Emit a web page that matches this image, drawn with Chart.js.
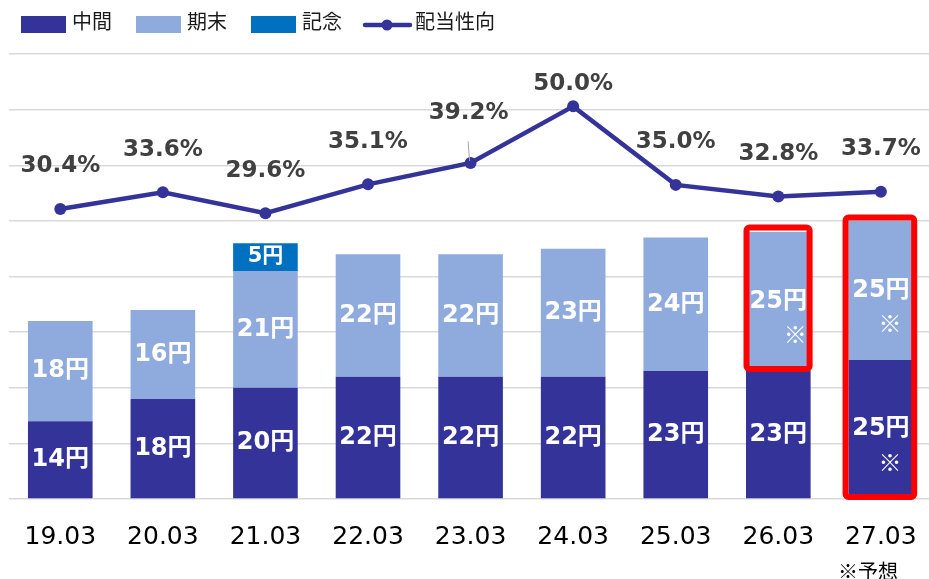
<!DOCTYPE html>
<html><head><meta charset="utf-8">
<script src="https://cdn.jsdelivr.net/npm/chart.js@4"></script>
<style>
html,body{margin:0;padding:0;overflow:hidden;background:#fff;width:929px;height:579px}
#wrap{position:absolute;left:0;top:0;width:940px;height:579px}
</style>
</head><body><div id="wrap"><canvas id="c" width="940" height="579"></canvas></div>
<script>
// ---- data ----
const categories = ['19.03','20.03','21.03','22.03','23.03','24.03','25.03','26.03','27.03'];
const interim = [14, 18, 20, 22, 22, 22, 23, 23, 25];
const yearEnd = [18, 16, 21, 22, 22, 23, 24, 25, 25];
const commemorative = [null, null, 5, null, null, null, null, null, null];
const payoutRatio = [30.4, 33.6, 29.6, 35.1, 39.2, 50.0, 35.0, 32.8, 33.7];
const interimForecast = [false, false, false, false, false, false, false, false, true];
const yearEndForecast = [false, false, false, false, false, false, false, true, true];
const seriesNames = ['中間', '期末', '記念', '配当性向'];
const footnote = '※予想';

// ---- styles ----
const C_DARK = '#333399', C_LIGHT = '#8FAADC', C_MEMO = '#0070C0', C_RED = '#FF0000';
const NUM_FONT = '"DejaVu Sans", "Noto Sans CJK JP", sans-serif';
const JP_FONT = '"Noto Sans CJK JP", "DejaVu Sans", sans-serif';

const labelPlugin = {
  id: 'labels',
  afterDatasetsDraw(chart) {
    const ctx = chart.ctx;
    ctx.save();
    // red forecast boxes
    const mEnd = chart.getDatasetMeta(1).data;
    const mInt = chart.getDatasetMeta(0).data;
    ctx.strokeStyle = C_RED; ctx.lineWidth = 6; ctx.lineJoin = 'round';
    const roundRect = (x1, y1, x2, y2) => {
      ctx.beginPath(); ctx.roundRect(x1, y1, x2 - x1, y2 - y1, 3); ctx.stroke();
    };
    {
      const e = mEnd[7];
      roundRect(e.x - e.width / 2 + 0.5, e.y - 4.5, e.x + e.width / 2 - 1, e.base - 2);
    }
    {
      const e = mEnd[8], d = mInt[8];
      roundRect(e.x - e.width / 2 - 3, e.y - 3.5, e.x + e.width / 2 + 1, d.base - 1.2);
    }
    // bar labels
    const noteDx = {7: 17, 8: 9};
    const drawBarLabels = (dsIndex, values, forecast, font) => {
      const meta = chart.getDatasetMeta(dsIndex);
      meta.data.forEach((el, i) => {
        const v = values[i];
        if (v === null || v === undefined) return;
        const cy = (el.y + el.base) / 2;
        ctx.fillStyle = '#FFFFFF';
        ctx.font = font;
        ctx.textAlign = 'center'; ctx.textBaseline = 'middle';
        ctx.fillText(v + '円', el.x, cy);
        if (forecast && forecast[i]) {
          ctx.font = '23px ' + JP_FONT;
          ctx.fillText('※', el.x + (noteDx[i] || 12), cy + 33);
        }
      });
    };
    drawBarLabels(0, interim, interimForecast, 'bold 24px ' + NUM_FONT);
    drawBarLabels(1, yearEnd, yearEndForecast, 'bold 24px ' + NUM_FONT);
    drawBarLabels(2, commemorative, null, 'bold 21px ' + NUM_FONT);
    // line labels
    const lineMeta = chart.getDatasetMeta(3);
    const dyMap = {4: 49.5, 5: 22.7};
    ctx.font = 'bold 23px ' + NUM_FONT;
    ctx.fillStyle = '#404040';
    ctx.textAlign = 'center'; ctx.textBaseline = 'middle';
    lineMeta.data.forEach((p, i) => {
      const dy = dyMap[i] !== undefined ? dyMap[i] : 42.5;
      ctx.fillText(payoutRatio[i].toFixed(1) + '%', p.x - (i === 4 ? 2 : 0), p.y - dy);
      if (i === 4) {
        ctx.save();
        ctx.strokeStyle = '#A6A6A6'; ctx.lineWidth = 1;
        ctx.beginPath(); ctx.moveTo(p.x - 2.5, p.y - 21.5); ctx.lineTo(p.x - 1, p.y - 2); ctx.stroke();
        ctx.restore();
      }
    });
    ctx.restore();
  },
  afterDraw(chart) {
    const ctx = chart.ctx;
    ctx.save();
    ctx.font = '20px ' + JP_FONT;
    ctx.fillStyle = '#1a1a1a';
    ctx.textAlign = 'left'; ctx.textBaseline = 'middle';
    const boxes = [[21, C_DARK], [136, C_LIGHT], [251, C_MEMO]];
    boxes.forEach(([x, col], i) => {
      ctx.fillStyle = col; ctx.fillRect(x, 16, 45, 17);
      ctx.fillStyle = '#1a1a1a';
      ctx.fillText(seriesNames[i], x + 51, 21.5);
    });
    ctx.strokeStyle = C_DARK; ctx.lineWidth = 4.5; ctx.lineCap = 'round';
    ctx.beginPath(); ctx.moveTo(365, 25); ctx.lineTo(410, 25); ctx.stroke();
    ctx.fillStyle = C_DARK;
    ctx.beginPath(); ctx.arc(387, 25, 5.5, 0, Math.PI * 2); ctx.fill();
    ctx.fillStyle = '#1a1a1a';
    ctx.fillText(seriesNames[3], 415, 21.5);
    // footnote
    ctx.font = '20px ' + JP_FONT;
    ctx.fillStyle = '#000000';
    ctx.fillText(footnote, 838, 571);
    ctx.restore();
  }
};

new Chart(document.getElementById('c'), {
  data: {
    labels: categories,
    datasets: [
      { type: 'bar', label: seriesNames[0], data: interim, backgroundColor: C_DARK, yAxisID: 'y', order: 1,
        barPercentage: 0.63, categoryPercentage: 1 },
      { type: 'bar', label: seriesNames[1], data: yearEnd, backgroundColor: C_LIGHT, yAxisID: 'y', order: 1,
        barPercentage: 0.63, categoryPercentage: 1 },
      { type: 'bar', label: seriesNames[2], data: commemorative, backgroundColor: C_MEMO, yAxisID: 'y', order: 1,
        barPercentage: 0.63, categoryPercentage: 1 },
      { type: 'line', label: seriesNames[3], data: payoutRatio, yAxisID: 'y1', order: 0,
        borderColor: C_DARK, borderWidth: 4.5, pointRadius: 6, pointBackgroundColor: C_DARK,
        pointBorderWidth: 0, tension: 0 }
    ]
  },
  options: {
    responsive: false,
    animation: false,
    events: [],
    layout: { padding: { left: 9, right: 4.5, top: 54, bottom: 0 } },
    plugins: { legend: { display: false }, tooltip: { enabled: false } },
    scales: {
      x: {
        stacked: true,
        grid: { display: false, drawTicks: false },
        border: { display: false },
        ticks: { color: '#000', font: { family: NUM_FONT, size: 25 }, padding: 23, maxRotation: 0 },
        afterFit: s => { s.height = 80; }
      },
      y: {
        stacked: true, min: 0, max: 80,
        ticks: { display: false, stepSize: 10 },
        grid: { color: '#D9D9D9', lineWidth: 1.5, drawTicks: false },
        border: { display: false },
        afterFit: s => { s.width = 0; }
      },
      y1: { display: false, min: -25, max: 60, position: 'right' }
    }
  },
  plugins: [labelPlugin]
});
</script>
</body></html>
